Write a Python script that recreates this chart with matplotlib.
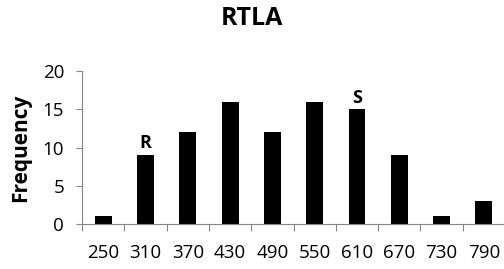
import matplotlib.pyplot as plt
import numpy as np

# RTLA frequency histogram (Excel-style column chart)
bins = ['250', '310', '370', '430', '490', '550', '610', '670', '730', '790']
freq = [1, 9, 12, 16, 12, 16, 15, 9, 1, 3]
marks = {'310': 'R', '610': 'S'}

plt.rcParams['font.family'] = ['Open Sans', 'DejaVu Sans']

fig = plt.figure(figsize=(5.04, 2.69), dpi=100)
ax = fig.add_axes([0.163, 0.167, 0.839, 0.569])

x = np.arange(len(bins))
ax.bar(x, freq, width=0.4, color='black')

# letters above two bars
for i, b in enumerate(bins):
    if b in marks:
        ax.annotate(marks[b], (x[i], freq[i]), xytext=(0, 2), textcoords='offset points',
                    ha='center', va='bottom', fontsize=13, fontweight='bold')

ax.set_xlim(-0.5, len(bins) - 0.5)
ax.set_ylim(0, 20)
ax.set_yticks([0, 5, 10, 15, 20])

# ticks at category boundaries, labels centered under bars
ax.set_xticks(np.arange(len(bins) + 1) - 0.5)
ax.set_xticklabels([])
ax.set_xticks(x, minor=True)
ax.set_xticklabels(bins, minor=True)
ax.tick_params(axis='x', which='major', length=5, color='#868686', direction='out')
ax.tick_params(axis='x', which='minor', length=0, labelsize=13.5, pad=14)
ax.tick_params(axis='y', length=4, color='#868686', labelsize=13.5, pad=9)

for s in ['top', 'right']:
    ax.spines[s].set_visible(False)
for s in ['left', 'bottom']:
    ax.spines[s].set_color('#868686')

ax.set_ylabel('Frequency', fontsize=15, fontweight='bold', labelpad=8)
fig.text(0.5, 0.93, 'RTLA', ha='center', va='center', fontsize=18, fontweight='bold')

plt.savefig('out.png', dpi=100)
